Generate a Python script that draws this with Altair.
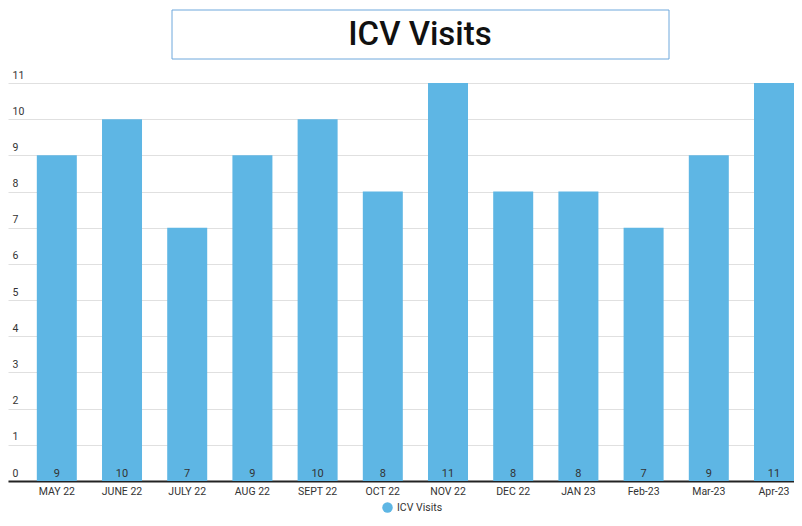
import altair as alt
import pandas as pd

months = ["MAY 22", "JUNE 22", "JULY 22", "AUG 22", "SEPT 22", "OCT 22",
          "NOV 22", "DEC 22", "JAN 23", "Feb-23", "Mar-23", "Apr-23"]
visits = [9, 10, 7, 9, 10, 8, 11, 8, 8, 7, 9, 11]
y_ticks = [0, 1, 2, 3, 4, 5, 6, 7, 8, 9, 10, 11]
series_name = "ICV Visits"
title_text = "ICV Visits"

df = pd.DataFrame({"month": months, "visits": visits, "series": series_name})

FONT = "Roboto"
BAR = "#5EB6E4"

x_scale = alt.Scale(paddingInner=0.3865, paddingOuter=0.221, align=1)
x_axis = alt.Axis(labelAngle=0, labelFontSize=10.5, labelColor="#333333",
                  labelFont=FONT, ticks=False, labelPadding=5,
                  domainColor="#222222", domainWidth=2, grid=False)
y_scale = alt.Scale(domain=[0, 11], nice=False)
y_axis = alt.Axis(values=y_ticks, ticks=False, domain=False,
                  labelOverlap=False, labelFlush=False,
                  labelAlign="left", labelBaseline="bottom", labelPadding=-4,
                  labelOffset=-3, labelFontSize=10.5, labelColor="#333333",
                  labelFont=FONT, gridColor="#E0E0E0", gridWidth=1)

base = alt.Chart(df)

bars = base.mark_bar(color=BAR).encode(
    x=alt.X("month:N", sort=months, title=None, scale=x_scale, axis=x_axis),
    y=alt.Y("visits:Q", title=None, scale=y_scale, axis=y_axis),
    color=alt.Color("series:N", scale=alt.Scale(range=[BAR]),
                    legend=alt.Legend(title=None, orient="none", legendX=374, legendY=419,
                                      symbolType="circle", symbolSize=110,
                                      labelFontSize=10.5, labelColor="#333333",
                                      labelFont=FONT, symbolStrokeWidth=0)),
)

labels = base.mark_text(baseline="middle", dy=-7, fontSize=11, color="#333333",
                        font=FONT).encode(
    x=alt.X("month:N", sort=months, title=None, scale=x_scale, axis=x_axis),
    y=alt.YDatum(0, title=None, scale=y_scale, axis=y_axis),
    text="visits:Q",
)

box = alt.Chart(alt.Data(values=[{"t": title_text}])).mark_rect(
    fill="white", stroke="#6FA8DC", strokeWidth=1
).encode(x=alt.value(164), x2=alt.value(661), y=alt.value(-73), y2=alt.value(-24))

title = alt.Chart(alt.Data(values=[{"t": title_text}])).mark_text(
    fontSize=33, font=FONT, fontWeight=500, color="#111111", baseline="middle", align="center"
).encode(x=alt.value(412), y=alt.value(-48), text="t:N")

chart = alt.layer(bars, labels, box, title).properties(
    width=786, height=398,
    autosize=alt.AutoSizeParams(type="none"),
    padding={"left": 0, "top": 75, "right": 0, "bottom": 35},
).configure_view(stroke=None)

chart.save("out.html", embed_options={"renderer": "svg", "actions": False})
